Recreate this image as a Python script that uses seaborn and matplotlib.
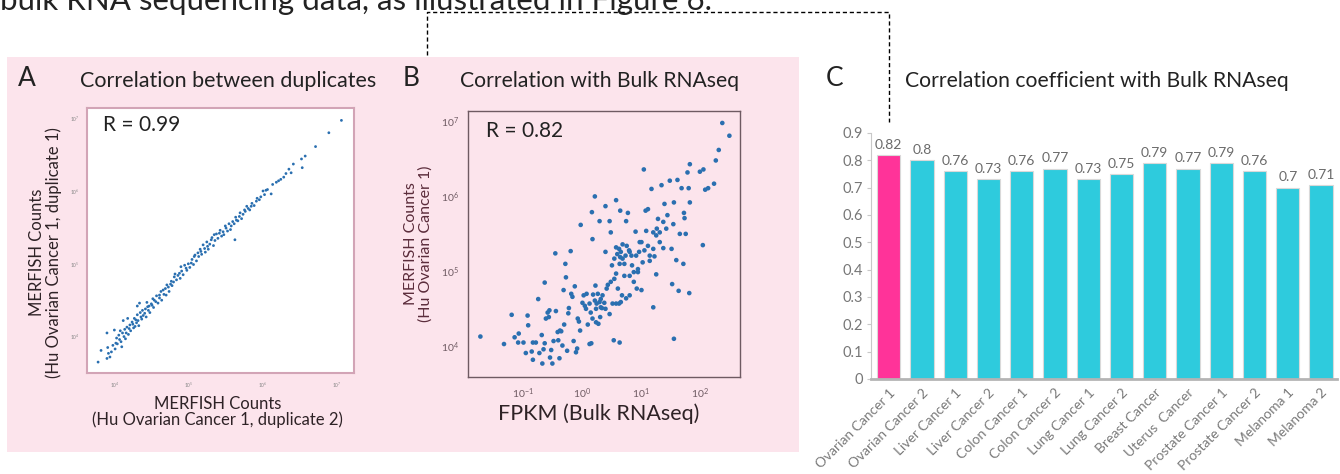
import numpy as np
import pandas as pd
import matplotlib
matplotlib.use("Agg")
import matplotlib.pyplot as plt
from matplotlib.lines import Line2D
from matplotlib.patches import Rectangle
from matplotlib.ticker import FuncFormatter
import seaborn as sns

# ==========================================
# DATA (log10 values)
# ==========================================
# Panel A: duplicate 2 (x) vs duplicate 1 (y), log10 MERFISH counts
dup2_log = [3.77, 3.81, 3.89, 3.91, 3.95, 3.99, 4.01, 4.06, 4.11, 4.15,
            4.19, 4.24, 4.28, 4.33, 4.35, 4.40, 4.44, 4.49, 4.53, 4.60,
            4.65, 4.70, 4.76, 4.80, 4.87, 4.89, 4.96, 5.03, 5.07, 5.12,
            5.16, 5.21, 5.25, 5.30, 5.34, 5.41, 5.46, 5.50, 5.57, 5.62,
            5.64, 5.68, 5.75, 5.80, 5.84, 5.91, 5.95, 6.02, 6.04, 6.11,
            6.18, 6.21, 6.28, 6.31, 6.41, 6.52, 6.53, 6.57, 6.71, 6.89,
            7.06,
            4.02, 4.05, 4.08, 4.10, 4.12, 4.13, 4.16, 4.18, 4.20, 4.21,
            4.23, 4.25, 4.26, 4.27, 4.29, 4.30, 4.31, 4.32, 4.34, 4.36,
            4.37, 4.38, 4.41, 4.42, 4.43, 4.45, 4.46, 4.47, 4.50, 4.51,
            4.52, 4.55, 4.56, 4.58, 4.60, 4.62, 4.63, 4.66, 4.68, 4.69,
            4.72, 4.73, 4.75, 4.77, 4.79, 4.81, 4.83, 4.85, 4.88, 4.90,
            4.92, 4.94, 4.97, 4.99, 5.01, 5.04, 5.06, 5.08, 5.10, 5.13,
            5.15, 5.17, 5.19, 5.22, 5.24, 5.26, 5.28, 5.31, 5.33, 5.35,
            5.37, 5.39, 5.42, 5.44, 5.47, 5.49, 5.52, 5.54, 5.56, 5.59,
            5.61, 5.63, 5.66, 5.69, 5.71, 5.73, 5.76, 5.78, 5.82, 5.85,
            5.88, 5.92, 5.97, 6.00, 6.06, 6.13, 6.24, 6.35, 6.38,
            3.90, 3.93, 3.97, 4.00, 4.03, 4.07, 4.09, 4.14, 3.89, 4.17, 4.30]
dup1_log = [3.65, 3.81, 3.70, 3.77, 3.79, 4.09, 3.91, 3.96, 4.22, 4.05,
            4.11, 4.17, 4.23, 4.46, 4.27, 4.32, 4.41, 4.45, 4.50, 4.57,
            4.64, 4.71, 4.76, 4.82, 4.87, 4.96, 4.94, 5.01, 5.10, 5.15,
            5.17, 5.21, 5.24, 5.33, 5.40, 5.42, 5.44, 5.49, 5.52, 5.33,
            5.60, 5.65, 5.74, 5.76, 5.79, 5.86, 5.88, 5.95, 6.01, 5.96,
            6.12, 6.14, 6.19, 6.24, 6.37, 6.44, 6.32, 6.48, 6.61, 6.80,
            6.97,
            3.98, 4.02, 3.93, 4.05, 4.00, 4.10, 4.13, 4.03, 4.16, 4.08,
            4.20, 4.12, 4.25, 4.14, 4.19, 4.30, 4.22, 4.15, 4.33, 4.24,
            4.36, 4.29, 4.38, 4.27, 4.47, 4.36, 4.42, 4.33, 4.43, 4.52,
            4.40, 4.48, 4.56, 4.46, 4.53, 4.62, 4.50, 4.58, 4.66, 4.57,
            4.68, 4.62, 4.72, 4.70, 4.75, 4.86, 4.78, 4.84, 4.80, 4.90,
            4.85, 4.98, 4.91, 5.00, 4.95, 5.06, 4.99, 5.12, 5.04, 5.10,
            5.20, 5.13, 5.26, 5.16, 5.30, 5.20, 5.27, 5.36, 5.25, 5.32,
            5.41, 5.35, 5.46, 5.38, 5.40, 5.52, 5.45, 5.55, 5.47, 5.58,
            5.55, 5.64, 5.59, 5.70, 5.62, 5.68, 5.72, 5.79, 5.74, 5.83,
            5.80, 5.90, 5.92, 6.00, 6.02, 6.09, 6.16, 6.30, 6.25,
            3.85, 3.72, 3.88, 3.83, 3.90, 4.08, 3.86, 3.97, 4.05, 4.25, 4.42]

# Panel B: log10 FPKM (x) vs log10 MERFISH counts (y)
fpkm_log = [-1.72, -1.32, -1.19, -1.14, -1.07, -1.08, -0.99, -0.95, -0.91, -0.92,
            -0.83, -0.83, -0.85, -0.78, -0.74, -0.72, -0.67, -0.65, -0.63, -0.68,
            -0.63, -0.61, -0.58, -0.56, -0.55, -0.54, -0.52, -0.50, -0.48, -0.45,
            -0.44, -0.41, -0.40, -0.38, -0.37, -0.35, -0.33, -0.31, -0.28, -0.27,
            -0.30, -0.25, -0.23, -0.22, -0.19, -0.18, -0.16, -0.14, -0.12, -0.10,
            -0.08, -0.07, -0.05, -0.02, -0.03, 0.01, 0.03, 0.05, 0.08, 0.10,
            0.13, 0.16, 0.17, 0.18, 0.22, 0.23, 0.24, 0.27, 0.30, 0.31,
            0.34, 0.40, 0.40, 0.42, 0.44, 0.47, 0.49, 0.51, 0.52, 0.54,
            0.58, 0.61, 0.63, 0.64, 0.65, 0.68, 0.69, 0.72, 0.75, 0.78,
            0.81, 0.84, 0.85, 0.88, 0.91, 0.93, 0.95, 0.98, 1.01, 1.05,
            1.08, 1.09, 1.12, 1.15, 1.18, 1.21, 1.21, 1.23, 1.26, 1.27,
            1.29, 1.32, 1.35, 1.38, 1.40, 1.43, 1.45, 1.49, 1.52, 1.53,
            1.55, 1.56, 1.60, 1.62, 1.64, 1.66, 1.69, 1.72, 1.73, 1.74,
            1.76, 1.79, 1.81, 1.83, 1.83, 1.82, 2.05, 1.56, 2.00, 2.06,
            2.09, 2.14, 2.24, 2.27, 2.32, 2.38, 2.50,
            0.58, 0.63, 0.66, 0.65, 0.69, 0.74, 0.76, 0.80, 0.60, 0.55, 0.72, 0.64,
            0.19, 0.22, 0.25, 0.30, 0.32, 0.35, 0.38, 0.32, 0.40,
            0.15, 0.18, 0.24, 0.28, 0.13, 0.07,
            0.47, 0.58, 0.66, 0.75, 0.81,
            0.55, 0.58, 0.49, 0.81, 0.88, 0.95,
            1.03, 1.06, 1.12, 1.15, 1.21, 1.26, 1.32, 1.38, 1.01, 0.97, 0.92]
merfish_log = [4.13, 4.03, 4.42, 4.12, 4.17, 4.05, 4.05, 3.91, 4.28, 4.41,
               3.82, 4.05, 3.93, 4.05, 4.63, 3.91, 3.77, 3.96, 4.04, 4.15,
               4.85, 4.37, 4.45, 4.39, 4.48, 3.85, 3.95, 3.77, 4.07, 5.24,
               4.47, 4.19, 4.08, 3.84, 4.21, 4.20, 4.01, 4.75, 5.10, 4.92,
               4.29, 3.94, 4.44, 4.51, 5.27, 4.70, 4.66, 4.07, 4.80, 3.92,
               3.97, 4.37, 4.33, 5.62, 4.21, 4.58, 4.68, 4.54, 4.70, 4.29,
               4.03, 4.04, 5.79, 5.43, 6.00, 4.81, 4.50, 4.70, 5.67, 4.39,
               4.51, 5.87, 5.26, 4.77, 4.82, 5.67, 5.52, 5.08, 4.57, 4.08,
               5.95, 4.77, 4.57, 4.05, 5.81, 4.68, 5.36, 4.94, 5.67, 5.78,
               5.26, 5.21, 5.08, 4.86, 5.53, 4.77, 4.99, 5.39, 4.75, 6.36,
               5.81, 5.54, 5.83, 5.14, 6.10, 4.52, 5.52, 5.20, 4.96, 5.57,
               5.70, 5.39, 6.15, 5.31, 5.90, 5.57, 5.75, 6.21, 5.30, 4.83,
               5.63, 5.92, 5.15, 6.22, 4.74, 5.50, 6.11, 5.10, 5.78, 5.71,
               5.50, 6.32, 6.11, 6.43, 5.92, 4.71, 5.35, 4.10, 6.33, 6.36,
               6.09, 6.11, 6.17, 6.48, 6.62, 6.98, 6.81,
               5.32, 5.30, 5.26, 5.19, 5.17, 5.21, 5.34, 5.28, 5.23, 5.17, 5.10, 5.10,
               4.69, 4.61, 4.57, 4.59, 4.63, 4.68, 4.58, 4.52, 4.50,
               4.45, 4.37, 4.32, 4.30, 4.57, 4.50,
               4.43, 4.57, 4.59, 4.64, 4.68,
               4.90, 4.97, 4.86, 4.94, 4.99, 5.03,
               5.12, 5.28, 5.34, 5.21, 5.30, 5.48, 5.52, 5.66, 5.39, 5.26, 5.21]

# Panel C: correlation coefficient per sample
samples = ["Ovarian Cancer 1", "Ovarian Cancer 2", "Liver Cancer 1", "Liver Cancer 2",
           "Colon Cancer 1", "Colon Cancer 2", "Lung Cancer 1", "Lung Cancer 2",
           "Breast Cancer", "Uterus  Cancer", "Prostate Cancer 1", "Prostate Cancer 2",
           "Melanoma 1", "Melanoma 2"]
corr = [0.82, 0.8, 0.76, 0.73, 0.76, 0.77, 0.73, 0.75, 0.79, 0.77, 0.79, 0.76, 0.7, 0.71]
corr_ticks = [0, 0.1, 0.2, 0.3, 0.4, 0.5, 0.6, 0.7, 0.8, 0.9]

df_a = pd.DataFrame({'dup2': 10 ** np.array(dup2_log), 'dup1': 10 ** np.array(dup1_log)})
df_b = pd.DataFrame({'fpkm': 10 ** np.array(fpkm_log), 'merfish': 10 ** np.array(merfish_log)})
df_c = pd.DataFrame({'sample': samples, 'r': corr})

# ==========================================
# STYLE
# ==========================================
sns.set_style("white")
plt.rcParams['font.family'] = ['Lato', 'DejaVu Sans']

PINK_BG = '#fce4ec'
DOT = '#2a6fb0'
W, H = 1340, 474

fig = plt.figure(figsize=(13.4, 4.74), dpi=100)

# pink panel behind A and B (kept under the axes)
fig.patches.append(Rectangle((7 / W, 1 - 452 / H), 792 / W, 395 / H,
                             transform=fig.transFigure, fc=PINK_BG, ec='none', zorder=-5))

# cropped sentence from the page above (cut at the top edge as in the source)
fig.text(0.0, 1 - 10 / H, "bulk RNA sequencing data, as illustrated in Figure 6.",
         fontsize=22.5, color='#222222', ha='left', va='baseline')

# dashed connector from panel B to bar C
fig.add_artist(Line2D([427 / W, 427 / W, 889 / W, 889 / W],
                      [1 - 55 / H, 1 - 12 / H, 1 - 12 / H, 1 - 122 / H],
                      transform=fig.transFigure, color='black', lw=1, ls=(0, (3, 2))))

# panel letters and titles
for letter, xpx in [('A', 27), ('B', 411), ('C', 835)]:
    fig.text(xpx / W, 1 - 79 / H, letter, fontsize=19,
             color='#222222', ha='center', va='center')
fig.text(228 / W, 1 - 81 / H, "Correlation between duplicates", fontsize=15.5,
         color='#222222', ha='center', va='center')
fig.text(600 / W, 1 - 81 / H, "Correlation with Bulk RNAseq", fontsize=15.2,
         color='#222222', ha='center', va='center')
fig.text(905 / W, 1 - 81 / H, "Correlation coefficient with Bulk RNAseq", fontsize=15.2,
         color='#222222', ha='left', va='center')

# ==========================================
# A: duplicates
# ==========================================
axA = fig.add_axes([87 / W, 1 - 373 / H, 267 / W, 265 / H])
sns.scatterplot(data=df_a, x='dup2', y='dup1', ax=axA, s=4, color=DOT,
                edgecolor='none', linewidth=0)
axA.set_xscale('log')
axA.set_yscale('log')
axA.set_xlim(10 ** 3.62, 10 ** 7.23)
axA.set_ylim(10 ** 3.50, 10 ** 7.14)
axA.set_facecolor('white')
for sp in axA.spines.values():
    sp.set_color('#d2a4b6')
    sp.set_linewidth(1.5)
axA.tick_params(which='both', labelsize=3.5, colors='#888888', length=2, width=0.5)
axA.tick_params(which='minor', length=1)
axA.set_xlabel("MERFISH Counts\n(Hu Ovarian Cancer 1, duplicate 2)", fontsize=12,
               color='#2e2226', linespacing=1.0)
axA.xaxis.set_label_coords(0.49, -0.085)
axA.set_ylabel("MERFISH Counts\n(Hu Ovarian Cancer 1, duplicate 1)", fontsize=12,
               color='#2e2226', linespacing=1.0)
axA.yaxis.set_label_coords(-0.095, 0.455)
axA.text(0.06, 0.935, "R = 0.99", transform=axA.transAxes, fontsize=15,
         color='#222222', ha='left', va='center')

# ==========================================
# B: versus bulk RNAseq
# ==========================================
axB = fig.add_axes([468 / W, 1 - 377 / H, 272 / W, 266 / H])
sns.scatterplot(data=df_b, x='fpkm', y='merfish', ax=axB, s=11, color=DOT,
                edgecolor='none', linewidth=0)
axB.set_xscale('log')
axB.set_yscale('log')
axB.set_xlim(10 ** -1.93, 10 ** 2.68)
axB.set_ylim(10 ** 3.59, 10 ** 7.14)
axB.set_facecolor(PINK_BG)
for sp in axB.spines.values():
    sp.set_color('#6e5a62')
    sp.set_linewidth(1.0)
axB.tick_params(which='both', labelsize=7.5, colors='#6e5a62', length=3, width=0.7)
axB.tick_params(which='minor', length=1.8)
axB.set_xlabel("FPKM (Bulk RNAseq)", fontsize=15.5, color='#2e2226')
axB.xaxis.set_label_coords(0.48, -0.10)
axB.set_ylabel("MERFISH Counts\n(Hu Ovarian Cancer 1)", fontsize=11.5,
               color='#5b2c3b', linespacing=1.0)
axB.yaxis.set_label_coords(-0.13, 0.5)
axB.text(0.066, 0.925, "R = 0.82", transform=axB.transAxes, fontsize=15,
         color='#222222', ha='left', va='center')

# ==========================================
# C: bar chart of correlation coefficients
# ==========================================
axC = fig.add_axes([871 / W, 1 - 379 / H, 466 / W, 246 / H])
bar_colors = ['#ff3399'] + ['#2ecbdd'] * (len(samples) - 1)
sns.barplot(data=df_c, x='sample', y='r', hue='sample', palette=bar_colors,
            saturation=1, legend=False, ax=axC, width=0.7,
            edgecolor='#d9d9d9', linewidth=0.8)
for container in axC.containers:
    axC.bar_label(container, fmt='%g', padding=3, fontsize=10, color='#6a6a6a')
axC.set_xlim(-0.53, 13.48)
axC.set_ylim(0, 0.9)
axC.set_yticks(corr_ticks)
axC.yaxis.set_major_formatter(FuncFormatter(lambda v, p: f'{v:g}'))
axC.set_facecolor('white')
axC.spines['top'].set_visible(False)
axC.spines['right'].set_visible(False)
axC.spines['left'].set_color('#c8c8c8')
axC.spines['bottom'].set_color('#b4b4b4')
axC.spines['bottom'].set_linewidth(2)
axC.tick_params(axis='y', left=True, length=3, color='#c8c8c8', labelcolor='#777777',
                labelsize=10.5, pad=3)
axC.tick_params(axis='x', bottom=False, labelcolor='#7a7a7a', labelsize=10, pad=2)
plt.setp(axC.get_xticklabels(), rotation=45, ha='right', rotation_mode='anchor')
axC.set_xlabel('')
axC.set_ylabel('')

fig.savefig('out.png', dpi=100)
